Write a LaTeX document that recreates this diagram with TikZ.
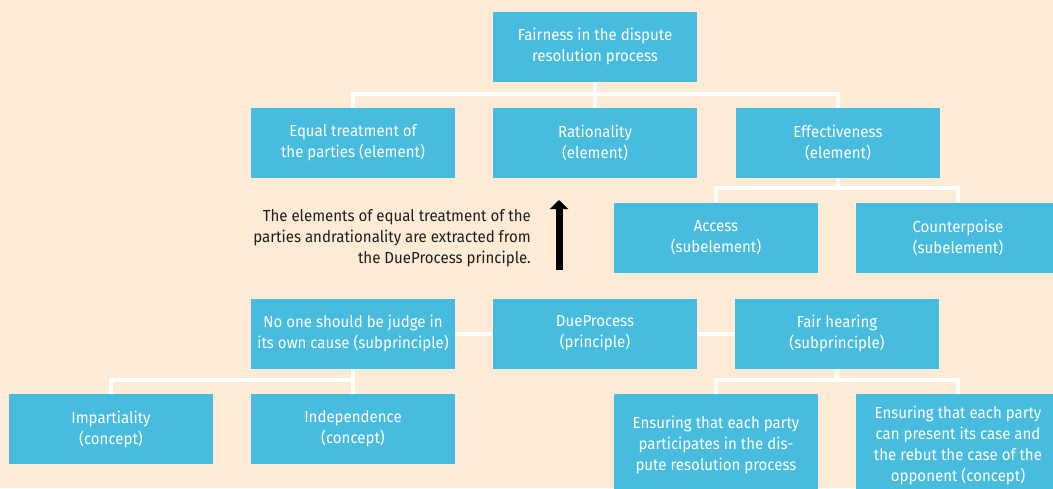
\documentclass[tikz,border=0pt]{standalone}
\usepackage{fontspec}
\setmainfont{Fira Sans}[FakeStretch=0.94]
\usetikzlibrary{arrows.meta}
\definecolor{bgcream}{HTML}{FEEBD5}
\definecolor{boxblue}{HTML}{48BCDE}
\definecolor{notegray}{HTML}{1E1E1E}
\begin{document}
\begin{tikzpicture}
            [
                x = 1pt, y = -1pt,
                every node/.style = {font=\fontsize{16}{21}\selectfont},
                box/.style  = {shape=rectangle, fill=boxblue, text=white,
                align=center, minimum width=204pt, minimum height=70pt,
                inner sep=0pt},
                link/.style = {draw=white, line width=4pt}
            ]
            \clip (0,0) rectangle (1053,488);
            \fill[bgcream] (0,0) rectangle (1053,488);
            % top level
            \node[box] (fair) at (595,46.5) {Fairness in the dispute \\ resolution process};
            % elements
            \node[box] (equal) at (353,143) {Equal treatment of \\ the parties (element)};
            \node[box] (rat)   at (595,143) {Rationality \\ (element)};
            \node[box] (eff)   at (838,143) {Effectiveness \\ (element)};
            \node[box] (access)  at (716,238) {Access \\ (subelement)};
            \node[box] (counter) at (958,238) {Counterpoise \\ (subelement)};
            % note and arrow
            \node[anchor=east, align=right, text=notegray, inner sep=0pt] (note) at (531,238)
                {The elements of equal treatment of the \\ parties andrationality are extracted from \\ the DueProcess principle.};
            \coordinate (arrbot) at (559,270);
            \coordinate (arrtop) at (559,200);
            \draw[line width=7pt, -{Triangle[length=9pt, width=18pt]}] (arrbot) -- (arrtop);
            % principles
            \node[box] (judge)   at (353,333.5) {No one should be judge in \\ its own cause (subprinciple)};
            \node[box] (due)     at (595,333.5) {DueProcess \\ (principle)};
            \node[box] (hearing) at (837,333.5) {Fair hearing \\ (subprinciple)};
            % concepts
            \node[box] (impart) at (111,429) {Impartiality \\ (concept)};
            \node[box] (indep)  at (353,429) {Independence \\ (concept)};
            \node[box, minimum height=102pt] (ens1) at (716,445)
                {Ensuring that each party \\ participates in the dis- \\ pute resolution process};
            \node[box, minimum height=102pt] (ens2) at (958,445)
                {Ensuring that each party \\ can present its case and \\ the rebut the case of the \\ opponent (concept)};
            % connectors
            \draw[link] (fair.south) -- ++(0,12) coordinate (j1);
            \draw[link] (j1) -| (equal.north);
            \draw[link] (j1) -| (eff.north);
            \draw[link] (j1) -- (rat.north);
            \draw[link] (eff.south) -- ++(0,10) coordinate (j2);
            \draw[link] (j2) -| (access.north);
            \draw[link] (j2) -| (counter.north);
            \draw[link] (judge) -- (due);
            \draw[link] (due) -- (hearing);
            \draw[link] (judge.south) -- ++(0,11) coordinate (j3);
            \draw[link] (j3) -| (impart.north);
            \draw[link] (j3) -| (indep.north);
            \draw[link] (hearing.south) -- ++(0,11) coordinate (j4);
            \draw[link] (j4) -| (ens1.north);
            \draw[link] (j4) -| (ens2.north);
\end{tikzpicture}
\end{document}
